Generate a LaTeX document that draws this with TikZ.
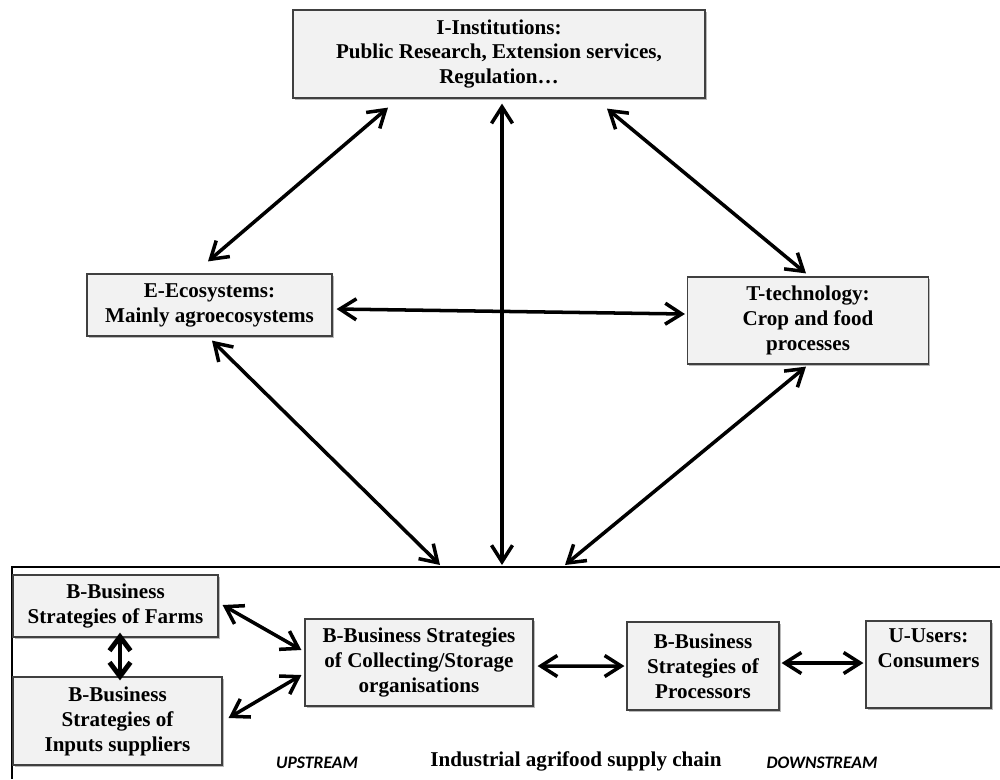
\documentclass[tikz,border=0pt]{standalone}
\usepackage{fontspec}
\setmainfont{Liberation Serif}
\newfontfamily\labelfont{Carlito}
\usetikzlibrary{arrows.meta,calc,shadows}
\begin{document}
\begin{tikzpicture}[x=0.02cm,y=-0.02cm,
  box/.style={draw=black!75, line width=0.7pt, fill=black!5, align=center,
    font=\fontsize{12}{14.2}\selectfont\bfseries, inner sep=0pt,
    drop shadow={shadow xshift=0.9pt, shadow yshift=-0.9pt, fill=black!45, opacity=0.6}},
  arr/.style={line width=2pt, {Straight Barb[length=3.3mm,width=4.2mm]}-{Straight Barb[length=3.3mm,width=4.2mm]}},
  thickarr/.style={line width=2.8pt, {Straight Barb[length=2.8mm,width=4.2mm]}-{Straight Barb[length=2.8mm,width=4.2mm]}},
  side/.style={font=\labelfont\fontsize{10}{12}\selectfont\bfseries\itshape},
  title/.style={font=\fontsize{12}{14}\selectfont\bfseries}]
\useasboundingbox (0,0) rectangle (1000,779);
% frame of the supply chain
\draw[line width=1.3pt] (1000,567) -- (12,567) -- (12,779);
\coordinate (f1) at (440,565);
\coordinate (f2) at (502,565);
\coordinate (f3) at (565,565);
% nodes
\node[box, minimum width=8.24cm, minimum height=1.76cm] (I) at (499,54)
  {I-Institutions:\\Public Research, Extension services,\\Regulation\dots};
\node[box, minimum width=4.9cm, minimum height=1.24cm] (E) at (209.5,305)
  {E-Ecosystems:\\Mainly agroecosystems};
\node[box, minimum width=4.82cm, minimum height=1.74cm] (T) at (808,320.5)
  {T-technology:\\Crop and food\\processes};
\node[box, minimum width=4.1cm, minimum height=1.24cm] (F) at (115.5,606)
  {B-Business\\Strategies of Farms};
\node[box, minimum width=4.18cm, minimum height=1.76cm] (S) at (117.5,721)
  {B-Business\\Strategies of\\Inputs suppliers};
\node[box, minimum width=4.56cm, minimum height=1.74cm] (C) at (419,662.5)
  {B-Business Strategies\\of Collecting/Storage\\organisations};
\node[box, minimum width=3.04cm, minimum height=1.76cm] (P) at (703,666)
  {B-Business\\Strategies of\\Processors};
\node[box, minimum width=2.5cm, minimum height=1.74cm] (U) at (928.5,664.5)
  {U-Users:\\Consumers\\\strut};
% bottom labels
\node[side] (up) at (317,763) {UPSTREAM};
\node[title] (ch) at (576,761) {Industrial agrifood supply chain};
\node[side] (down) at (822,763) {DOWNSTREAM};
% connectors
\draw[arr] ([shift={(-111,9)}]I.south) -- ([shift={(-1.5,-12)}]E.north);
\draw[arr] ([shift={(3,5)}]I.south) -- (f2);
\draw[arr] ([shift={(108,10)}]I.south) -- ([shift={(-2,-3)}]T.north);
\draw[arr] ([shift={(4,4)}]E.east) -- ([shift={(-2,-6.5)}]T.west);
\draw[arr] ([shift={(2.5,4)}]E.south) -- (f1);
\draw[arr] ([shift={(-2,2)}]T.south) -- (f3);
\draw[thickarr] ([shift={(4.5,-5)}]F.south) -- ([shift={(2.5,4)}]S.north);
\draw[arr] ([shift={(4,-1)}]F.east) -- ([shift={(-3,-12.5)}]C.west);
\draw[arr] ([shift={(6,-3)}]S.east) -- ([shift={(-3,12.5)}]C.west);
\draw[arr] ([shift={(4,3.5)}]C.east) -- ([shift={(-2,0)}]P.west);
\draw[arr] ([shift={(2,-3)}]P.east) -- ([shift={(-2,-1.5)}]U.west);
\end{tikzpicture}
\end{document}
